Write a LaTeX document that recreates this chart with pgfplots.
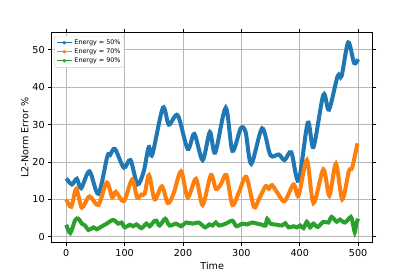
\documentclass[border=0pt]{standalone}
\usepackage{pgfplots}
\pgfplotsset{compat=1.18}
\usepackage{fontspec}
\setmainfont{DejaVu Sans}
\definecolor{c1}{HTML}{1F77B4}
\definecolor{c2}{HTML}{FF7F0E}
\definecolor{c3}{HTML}{2CA02C}
\begin{document}
\begin{tikzpicture}[x=1bp,y=1bp]
\useasboundingbox (0,0) rectangle (415,277);
\begin{axis}[at={(51.7bp,34.3bp)}, anchor=south west, scale only axis,
  width=321bp, height=210bp,
  xmin=-25, xmax=525, ymin=-1.6, ymax=54.6,
  xtick={0,100,...,500}, ytick={0,10,...,50},
  grid=major, grid style={color=black!28, line width=0.8bp},
  tick align=outside, tick style={black, line width=0.8bp},
  major tick length=3.5bp,
  axis line style={line width=0.8bp},
  ticklabel style={font=\fontsize{9.6bp}{11bp}\selectfont},
  label style={font=\fontsize{9.6bp}{11bp}\selectfont},
  /pgf/number format/assume math mode=true,
  xlabel={Time}, ylabel={L2-Norm Error \%},
  xlabel style={yshift=2bp},
  ylabel style={yshift=-3bp},
  legend style={at={(0.008,0.985)}, anchor=north west,
    font=\fontsize{6.4bp}{7.5bp}\selectfont, draw=black!20, rounded corners=2bp,
    row sep=-1.2bp, inner sep=1.5bp},
  legend cell align=left,
  legend image code/.code={\draw[#1, line width=1.5bp] (0bp,0bp) -- (15bp,0bp); \fill[#1] (7.5bp,0bp) circle (1.6bp);},
]
\addlegendimage{c1}
\addlegendentry{Energy = 50\%}
\addlegendimage{c2}
\addlegendentry{Energy = 70\%}
\addlegendimage{c3}
\addlegendentry{Energy = 90\%}
\addplot[c1, line width=4bp, smooth, forget plot] coordinates {
(0,15.6) (9.6,14.0) (18.1,15.5) (25.5,13.0) (39.7,17.5) (55,11.5) (70.3,21.5) (74.8,21.8)
(83.3,23.5) (98.6,18.5) (110,20.5) (121.9,14.0) (132.7,17.5) (141.2,24.0) (147.4,22.0)
(165.5,34.5) (175.7,30.0) (191,32.5) (208,23.5) (219.4,27.5) (233.6,20.5) (246,28.0)
(255.1,22.5) (273.2,34.5) (284.6,23.0) (298.8,29.0) (307.3,28.0) (316.9,19.5) (335.6,29.0)
(349.8,21.8) (364,22.0) (374,20.5) (385.5,22.6) (398,15.0) (413.8,30.5) (423.5,24.0)
(440.5,38.0) (450.1,34.0) (464.9,43.0) (471.7,43.0) (483,52.0) (493.2,46.5) (500,47.5)
};
\addplot[c2, line width=4bp, smooth, forget plot] coordinates {
(0,10.0) (8.5,8.0) (17,12.8) (26.6,7.8) (39.7,10.8) (55,8.5) (69.2,14.5) (78.8,10.5)
(85,12.0) (98.6,9.5) (112.8,15.3) (121.3,10.5) (128.7,11.3) (134.4,11.5) (141.7,16.5)
(151.4,10.0) (163.8,13.5) (174,9.0) (183.7,11.5) (196.7,17.5) (208,10.5) (222.2,15.5)
(233.6,8.5) (247.7,16.5) (256.2,12.8) (264.7,14.0) (274.4,16.5) (284.6,8.5) (296,12.0)
(308.4,16.0) (321.4,8.0) (330,10.0) (341.3,13.5) (347,12.8) (352.6,13.8) (362.8,11.5)
(374.1,9.5) (389.5,14.0) (398,11.0) (412.2,20.5) (423.5,9.0) (440.5,18.0) (450.7,11.0)
(462,19.5) (472.8,10.0) (484.1,17.5) (489.8,18.5) (498.9,25.0)
};
\addplot[c3, line width=4bp, smooth, forget plot] coordinates {
(0,3.2) (6.8,1.0) (15.3,4.5) (21,4.8) (26.6,3.5) (32.3,3.0) (38,1.8) (46.5,2.5) (52.2,2.0)
(57.8,2.5) (63.5,3.0) (69.2,3.5) (80.5,4.5) (89,3.5) (94.7,3.8) (100.3,2.5) (108.8,3.2)
(114.5,2.8) (120.2,3.3) (128.7,2.3) (137.2,3.5) (142.9,2.8) (149.7,4.0) (154.2,4.3)
(159.9,3.0) (169.5,4.8) (176.9,3.0) (188.2,3.5) (196.7,2.8) (205.2,3.8) (216.6,3.5)
(226.8,3.8) (238.1,2.5) (244.9,3.3) (250.6,3.0) (256.2,3.8) (261.9,3.0) (273.2,3.5)
(284.6,4.3) (291.4,2.8) (301.6,3.5) (310.1,3.3) (318.6,3.8) (327.1,3.5) (335.6,3.2)
(341.3,3.0) (344.2,4.8) (349.8,3.5) (361.1,3.2) (369.6,3.0) (375.3,3.6) (381,2.5)
(389.5,2.8) (395.1,2.5) (400.8,3.0) (406.5,2.3) (412.2,4.0) (417.8,2.5) (423.5,3.5)
(430.8,2.6) (440.5,4.0) (449,3.8) (454.6,5.3) (463.2,4.0) (468.8,4.6) (477.3,3.8)
(487.5,5.3) (490.4,4.0) (494.3,1.2) (497,3.5) (500,4.8)
};
\end{axis}
\end{tikzpicture}
\end{document}
